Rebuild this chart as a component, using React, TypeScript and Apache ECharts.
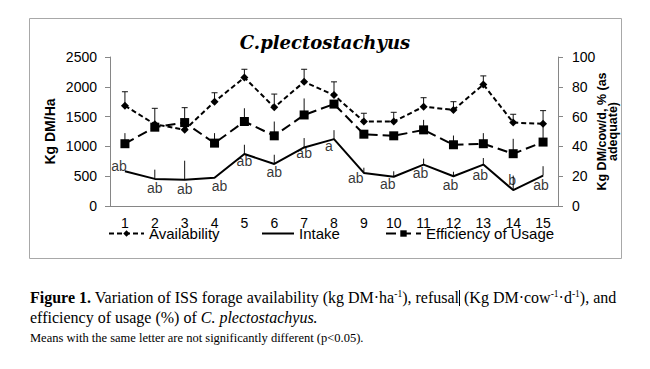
import React, { useEffect, useRef } from "react";
import * as echarts from "echarts";

const categories = ["1", "2", "3", "4", "5", "6", "7", "8", "9", "10", "11", "12", "13", "14", "15"];
// Availability, Kg DM/Ha (left axis)
const availability = [1683, 1372, 1278, 1750, 2156, 1656, 2083, 1861, 1417, 1417, 1667, 1611, 2039, 1400, 1378];
const availabilityErr = [234, 267, 372, 150, 138, 222, 211, 222, 139, 155, 150, 139, 144, 139, 222];
// Intake (right axis)
const intake = [23.3, 18.2, 17.6, 18.9, 34.9, 28.2, 39.3, 44.9, 22.2, 19.6, 27.8, 20.0, 27.8, 10.7, 20.4];
const intakeErr = [0, 6.2, 12.8, 0, 6.2, 6.2, 6.3, 6.0, 3.5, 3.7, 4.0, 3.0, 4.4, 9.7, 6.3];
// Efficiency of usage, % (right axis)
const efficiency = [41.8, 52.9, 56.0, 42.2, 56.7, 47.1, 61.1, 68.4, 48.2, 47.1, 51.1, 41.1, 41.8, 35.1, 42.9];
const efficiencyErr = [7.1, 0, 0, 6.7, 8.9, 9.6, 11.1, 0, 0, 0, 6.7, 6.2, 7.1, 10.0, 11.1];
// significance letters on intake
const intakeLetters = ["ab", "ab", "ab", "ab", "ab", "ab", "ab", "a", "ab", "ab", "ab", "ab", "ab", "b", "ab"];

const leftAxis = { min: 0, max: 2500, interval: 500 };
const rightAxis = { min: 0, max: 100, interval: 20 };

// label placement (style only)
const letterOffsets: number[][] = [
  [-6, -5], [0, 9], [0, 9], [5, 8], [0, 7], [0, 8], [0, 6], [-5, 7],
  [-8, 5], [-6, 7], [-3, 8], [-3, 9], [-3, 10], [-1, -10], [-2, 9],
];

const SANS = '"Liberation Sans", Arial, sans-serif';
const SERIF = '"Liberation Serif", "Times New Roman", serif';

function errorSeries(name: string, values: number[], errs: number[], yAxisIndex: number, cap: boolean) {
  return {
    type: "custom",
    name,
    yAxisIndex,
    silent: true,
    z: 1,
    encode: { x: 0, y: 1 },
    data: values.map((v, i) => [i, v, v + errs[i]]),
    renderItem: (params: any, api: any) => {
      const x = api.value(0);
      const p0 = api.coord([x, api.value(1)]);
      const p1 = api.coord([x, api.value(2)]);
      const children: any[] = [];
      if (Math.abs(p0[1] - p1[1]) > 0.5) {
        children.push({
          type: "line",
          shape: { x1: p0[0], y1: p0[1], x2: p1[0], y2: p1[1] },
          style: { stroke: "#111", lineWidth: 1 },
        });
        if (cap) {
          children.push({
            type: "line",
            shape: { x1: p1[0] - 3, y1: p1[1], x2: p1[0] + 3, y2: p1[1] },
            style: { stroke: "#111", lineWidth: 1 },
          });
        }
      }
      return { type: "group", children };
    },
  };
}

export default function App() {
  const ref = useRef<HTMLDivElement>(null);

  useEffect(() => {
    if (!ref.current) return;
    const chart = echarts.init(ref.current, undefined, { renderer: "svg" });
    const legendText = { fontSize: 15, fontFamily: SANS, color: "#000" };
    const axisGray = "#868686";
    chart.setOption({
      animation: false,
      backgroundColor: "#fff",
      title: {
        text: "C.plectostachyus",
        left: "center",
        top: 28,
        textStyle: {
          fontFamily: '"DejaVu Serif", serif',
          fontStyle: "italic",
          fontWeight: "bold",
          fontSize: 18,
          color: "#000",
        },
      },
      grid: { left: 110, right: 92, top: 57, bottom: 163 },
      legend: [
        {
          left: 108, top: 226, padding: 0, itemWidth: 35, itemHeight: 8, itemGap: 0,
          data: ["Availability"], textStyle: legendText, selectedMode: false,
        },
        {
          left: 262, top: 226, padding: 0, itemWidth: 32, itemHeight: 8, itemGap: 0,
          data: [{ name: "Intake", icon: "path://M0,3.5L32,3.5L32,5.5L0,5.5Z" }],
          textStyle: legendText, selectedMode: false,
        },
        {
          left: 385, top: 226, padding: 0, itemWidth: 35, itemHeight: 8, itemGap: 0,
          data: ["Efficiency of Usage"], textStyle: legendText, selectedMode: false,
        },
      ],
      xAxis: {
        type: "category",
        data: categories,
        boundaryGap: true,
        axisLine: { lineStyle: { color: axisGray, width: 1 } },
        axisTick: { length: 5, lineStyle: { color: axisGray } },
        axisLabel: { fontSize: 14, fontFamily: SANS, color: "#000", margin: 10, interval: 0 },
        splitLine: { show: false },
      },
      yAxis: [
        {
          type: "value",
          ...leftAxis,
          axisLine: { show: true, lineStyle: { color: axisGray } },
          axisTick: { show: true, length: 5, lineStyle: { color: axisGray } },
          axisLabel: {
            fontSize: 14, fontFamily: SANS, color: "#000", margin: 13,
            formatter: (v: number) => String(v),
          },
          splitLine: { show: false },
        },
        {
          type: "value",
          ...rightAxis,
          position: "right",
          axisLine: { show: true, lineStyle: { color: axisGray } },
          axisTick: { show: true, length: 5, lineStyle: { color: axisGray } },
          axisLabel: {
            fontSize: 14, fontFamily: SANS, color: "#000", margin: 14,
            formatter: (v: number) => String(v),
          },
          splitLine: { show: false },
        },
      ],
      graphic: [
        {
          type: "rect",
          silent: true,
          z: -10,
          shape: { x: 29.5, y: 18.5, width: 592, height: 240 },
          style: { fill: "none", stroke: "#a8a8a8", lineWidth: 1 },
        },
        {
          type: "text",
          x: 50,
          y: 131.5,
          rotation: Math.PI / 2,
          style: {
            text: "Kg DM/Ha",
            fontFamily: SANS,
            fontWeight: "bold",
            fontSize: 14,
            fill: "#000",
            align: "center",
            verticalAlign: "middle",
          },
        },
        {
          type: "text",
          x: 607,
          y: 131.5,
          rotation: Math.PI / 2,
          style: {
            text: "Kg DM/cow/d, % (as\nadequate)",
            fontFamily: SANS,
            fontWeight: "bold",
            fontSize: 12.5,
            lineHeight: 11,
            fill: "#000",
            align: "center",
            verticalAlign: "middle",
          },
        },
      ],
      series: [
        errorSeries("availErr", availability, availabilityErr, 0, true),
        errorSeries("effErr", efficiency, efficiencyErr, 1, false),
        errorSeries("intakeErr", intake, intakeErr, 1, false),
        {
          name: "Availability",
          type: "line",
          yAxisIndex: 0,
          data: availability,
          symbol: "diamond",
          symbolSize: 8,
          itemStyle: { color: "#000" },
          lineStyle: { color: "#000", width: 2, type: [5, 3] },
          z: 3,
        },
        {
          name: "Intake",
          type: "line",
          yAxisIndex: 1,
          data: intake,
          symbol: "none",
          itemStyle: { color: "#000" },
          lineStyle: { color: "#000", width: 2, type: "solid" },
          z: 3,
        },
        {
          name: "Efficiency of Usage",
          type: "line",
          yAxisIndex: 1,
          data: efficiency,
          symbol: "rect",
          symbolSize: 9,
          itemStyle: { color: "#000" },
          lineStyle: { color: "#000", width: 2, type: [10, 5] },
          z: 3,
        },
        {
          name: "letters",
          type: "scatter",
          yAxisIndex: 1,
          symbolSize: 1,
          silent: true,
          itemStyle: { color: "rgba(0,0,0,0)" },
          z: 4,
          data: intake.map((v, i) => ({
            value: [i, v],
            label: { offset: letterOffsets[i] },
          })),
          label: {
            show: true,
            position: "inside",
            formatter: (p: any) => intakeLetters[p.dataIndex],
            fontSize: 14,
            fontFamily: SANS,
            color: "#000",
            align: "center",
            verticalAlign: "middle",
          },
        },
      ],
    });
    return () => chart.dispose();
  }, []);

  const sup: React.CSSProperties = { fontSize: 9.5, lineHeight: 0, verticalAlign: "super" };

  return (
    <div style={{ position: "fixed", left: 0, top: 0, width: 650, height: 369, background: "#fff" }}>
      <div ref={ref} style={{ position: "absolute", left: 0, top: 0, width: 650, height: 369 }} />
      <div
        style={{
          position: "absolute",
          left: 30,
          top: 288,
          fontFamily: SERIF,
          fontSize: 16,
          lineHeight: "20px",
          color: "#000",
          whiteSpace: "nowrap",
        }}
      >
        <b>Figure 1.</b> Variation of ISS forage availability (kg DM·ha<sup style={sup}>-1</sup>), refusal
        <span style={{ display: "inline-block", width: 1, height: 16, background: "#000", verticalAlign: "-3px" }} />
        {" "}(Kg DM·cow<sup style={sup}>-1</sup>·d<sup style={sup}>-1</sup>), and
        <br />
        efficiency of usage (%) of <i>C. plectostachyus.</i>
      </div>
      <div
        style={{
          position: "absolute",
          left: 30,
          top: 331,
          fontFamily: SERIF,
          fontSize: 12.5,
          lineHeight: "15px",
          color: "#000",
          whiteSpace: "nowrap",
        }}
      >
        Means with the same letter are not significantly different (p&lt;0.05).
      </div>
    </div>
  );
}
